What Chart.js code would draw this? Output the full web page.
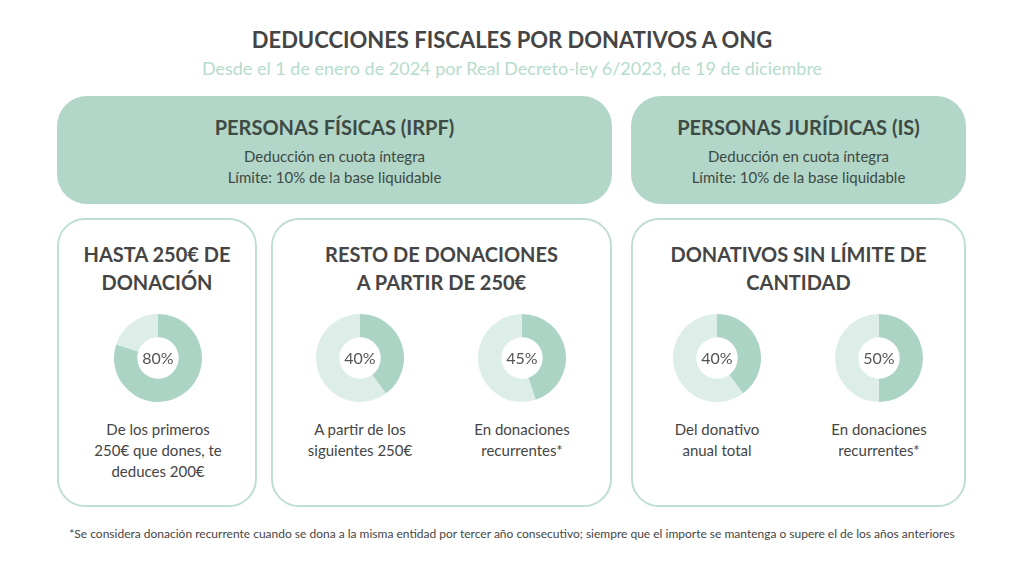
<!DOCTYPE html>
<html>
<head>
<meta charset="utf-8">
<script src="https://cdn.jsdelivr.net/npm/chart.js@4.4.1/dist/chart.umd.min.js"></script>
<style>
  html, body { margin:0; padding:0; background:#fff; }
  body { width:1024px; height:576px; position:relative; overflow:hidden; font-family:Lato, "Open Sans", sans-serif; color:#454545; }
  .abs { position:absolute; }
  .center { text-align:center; }
  .title { left:0; width:1024px; top:26px; font-size:22px; font-weight:bold; }
  .subtitle { left:0; width:1024px; top:57px; font-size:18px; color:#b6dccd; }
  .topbox { background:#b2d6c8; border-radius:30px; }
  .topbox h2 { margin:0; position:absolute; left:0; right:0; top:19px; font-size:20px; font-weight:bold; color:#3e4a44; text-align:center; }
  .topbox p { margin:0; position:absolute; left:0; right:0; top:50px; font-size:15px; line-height:21px; color:#3e4a44; text-align:center; }
  .card { border:2px solid #c0ded2; border-radius:28px; background:#fff; box-sizing:border-box; }
  .card h3 { margin:0; position:absolute; left:0; right:0; top:20px; font-size:20px; line-height:28px; font-weight:bold; color:#454545; text-align:center; }
  .cap { font-size:15px; line-height:21px; color:#454545; text-align:center; width:170px; }
  .foot { left:0; width:1024px; top:526px; font-size:12px; color:#454545; }
</style>
</head>
<body>
<div class="abs center title">DEDUCCIONES FISCALES POR DONATIVOS A ONG</div>
<div class="abs center subtitle">Desde el 1 de enero de 2024 por Real Decreto-ley 6/2023, de 19 de diciembre</div>

<div class="abs topbox" style="left:57px;top:96px;width:555px;height:108px;">
  <h2>PERSONAS FÍSICAS (IRPF)</h2>
  <p>Deducción en cuota íntegra<br>Límite: 10% de la base liquidable</p>
</div>
<div class="abs topbox" style="left:631px;top:96px;width:335px;height:108px;">
  <h2>PERSONAS JURÍDICAS (IS)</h2>
  <p>Deducción en cuota íntegra<br>Límite: 10% de la base liquidable</p>
</div>

<div class="abs card" style="left:57px;top:218px;width:200px;height:289px;"><h3>HASTA 250€ DE<br>DONACIÓN</h3></div>
<div class="abs card" style="left:271px;top:218px;width:341px;height:289px;"><h3>RESTO DE DONACIONES<br>A PARTIR DE 250€</h3></div>
<div class="abs card" style="left:631px;top:218px;width:335px;height:289px;"><h3>DONATIVOS SIN LÍMITE DE<br>CANTIDAD</h3></div>

<div id="donuts"></div>

<div class="abs center foot">*Se considera donación recurrente cuando se dona a la misma entidad por tercer año consecutivo; siempre que el importe se mantenga o supere el de los años anteriores</div>

<script>
// porcentaje deducido en cada caso
var pctValues = [80, 40, 45, 40, 50];
var pctCaptions = [
  ['De los primeros', '250€ que dones, te', 'deduces 200€'],
  ['A partir de los', 'siguientes 250€'],
  ['En donaciones', 'recurrentes*'],
  ['Del donativo', 'anual total'],
  ['En donaciones', 'recurrentes*']
];
var centersX = [158, 360, 522, 717, 879];

var centerText = {
  id: 'centerText',
  afterDraw: function(chart) {
    var ctx = chart.ctx;
    var meta = chart.getDatasetMeta(0).data[0];
    ctx.save();
    ctx.font = '16px Lato';
    ctx.fillStyle = '#555555';
    ctx.textAlign = 'center';
    ctx.textBaseline = 'middle';
    ctx.fillText(chart.data.datasets[0].data[0] + '%', meta.x, meta.y + 1);
    ctx.restore();
  }
};

function render(i) {
  var host = document.getElementById('donuts');
  var canvas = document.createElement('canvas');
  canvas.className = 'abs';
  canvas.style.left = (centersX[i] - 44) + 'px';
  canvas.style.top = (358 - 44) + 'px';
  canvas.width = 88; canvas.height = 88;
  host.appendChild(canvas);
  new Chart(canvas, {
    type: 'doughnut',
    data: {
      labels: ['Deducción', 'Resto'],
      datasets: [{
        data: [pctValues[i], 100 - pctValues[i]],
        backgroundColor: ['#acd4c4', '#ddede7'],
        borderWidth: 0
      }]
    },
    options: {
      responsive: false,
      animation: false,
      cutout: '47%',
      plugins: { legend: { display: false }, tooltip: { enabled: false } }
    },
    plugins: [centerText]
  });
  var cap = document.createElement('div');
  cap.className = 'abs cap';
  cap.style.left = (centersX[i] - 85) + 'px';
  cap.style.top = '419px';
  cap.innerHTML = pctCaptions[i].join('<br>');
  host.appendChild(cap);
}

window.onload = function() {
  for (var i = 0; i < pctValues.length; i++) render(i);
};
</script>
</body>
</html>
